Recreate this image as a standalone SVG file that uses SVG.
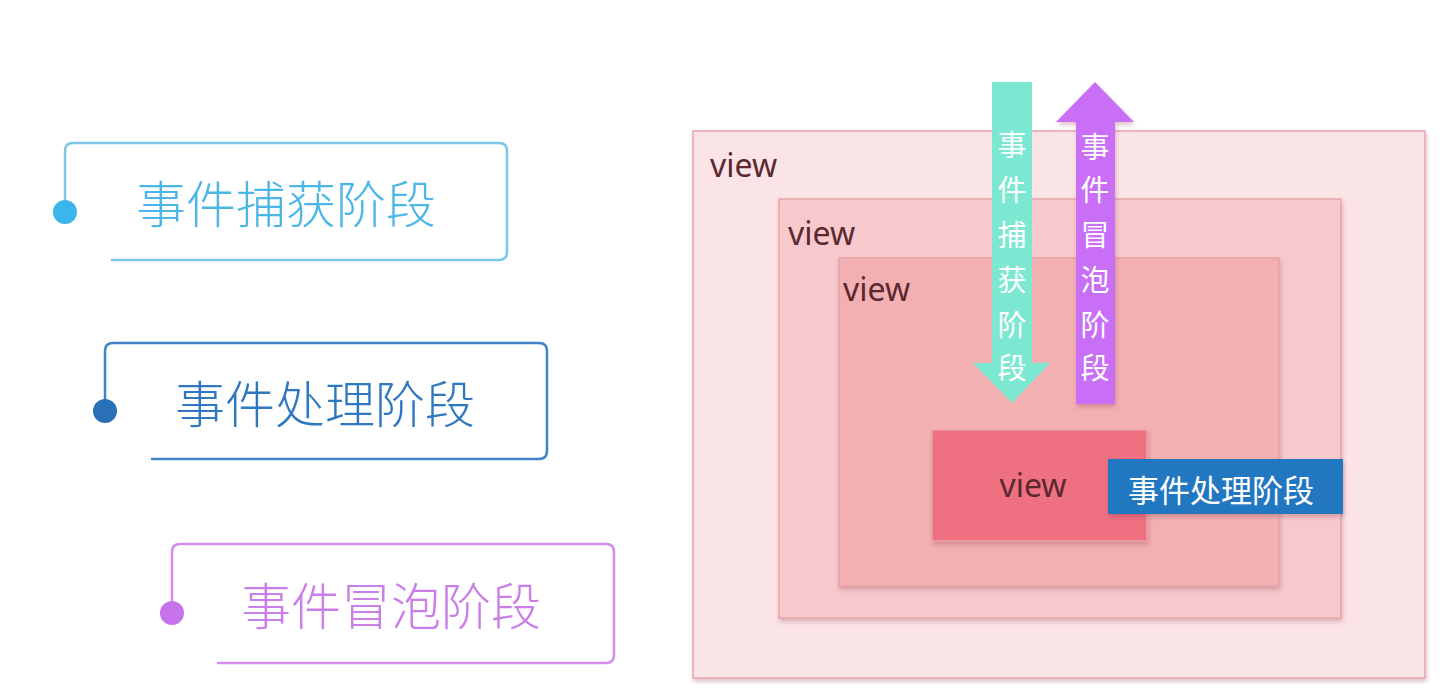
<svg xmlns="http://www.w3.org/2000/svg" width="1446" height="698" viewBox="0 0 1446 698">
<defs>
<filter id="sh" x="-10%" y="-10%" width="120%" height="130%">
<feDropShadow dx="1" dy="3" stdDeviation="2" flood-color="#8a3a44" flood-opacity="0.3"/>
</filter>
<style>
.cjk{font-family:"Noto Sans CJK SC","Noto Sans",sans-serif;}
.lbl{font-size:50px;text-anchor:middle;dominant-baseline:central;font-weight:300;}
.frame{fill:none;stroke-width:2.5;stroke-linecap:round;stroke-linejoin:round;}
.view{font-family:"Noto Sans","DejaVu Sans",sans-serif;font-size:32px;fill:#5b2830;}
.vt{font-size:29px;fill:#ffffff;text-anchor:middle;dominant-baseline:central;}
.box{stroke:#e9a3a9;stroke-width:1.5;filter:url(#sh);}
</style>
</defs>
<rect width="1446" height="698" fill="#ffffff"/>

<g id="node-capture">
<path class="frame" stroke="#7cc6ea" d="M65 212 V151 Q65 143 73 143 H499 Q507 143 507 151 V252 Q507 260 499 260 H112"/>
<circle cx="65" cy="212" r="12" fill="#3bb5ea"/>
<text class="cjk lbl" x="286" y="201" fill="#4cb7e6">事件捕获阶段</text>
</g>

<g id="node-handle">
<path class="frame" stroke="#3f85c6" d="M105 411 V351 Q105 343 113 343 H539 Q547 343 547 351 V451 Q547 459 539 459 H152"/>
<circle cx="105" cy="411" r="12" fill="#2a70b8"/>
<text class="cjk lbl" x="325" y="401" fill="#2f78bf">事件处理阶段</text>
</g>

<g id="node-bubble">
<path class="frame" stroke="#d38cec" d="M172 613 V552 Q172 544 180 544 H606 Q614 544 614 552 V655 Q614 663 606 663 H218"/>
<circle cx="172" cy="613" r="12" fill="#c873ee"/>
<text class="cjk lbl" x="391" y="603" fill="#c97ee8">事件冒泡阶段</text>
</g>

<g id="view-outer">
<rect class="box" x="693" y="131" width="732" height="547" fill="#fbe4e6"/>
<text class="view" x="710" y="177">view</text>
</g>

<g id="view-second">
<rect class="box" x="779" y="199" width="562" height="419" fill="#f7c9cc"/>
<text class="view" x="788" y="245">view</text>
</g>

<g id="view-third">
<rect class="box" x="839" y="258" width="440" height="328" fill="#f3b0b2"/>
<text class="view" x="843" y="301">view</text>
</g>

<g id="view-target">
<rect class="box" x="932" y="430" width="215" height="111" fill="#ef7081" stroke="#e46576"/>
<text class="view" x="1033" y="497" text-anchor="middle">view</text>
</g>

<g id="label-handle">
<rect x="1108" y="459" width="235" height="55" fill="#2277c1" filter="url(#sh)"/>
<text class="cjk" x="1221" y="488" font-size="31" fill="#ffffff" text-anchor="middle" dominant-baseline="central">事件处理阶段</text>
</g>

<g id="connectors">
<g id="arrow-capture">
<polygon points="992,82 1032,82 1032,363 1050,363 1012,403 973,363 992,363" fill="#7de8d1"/>
<text class="cjk vt" x="1012" y="143">事</text>
<text class="cjk vt" x="1012" y="188">件</text>
<text class="cjk vt" x="1012" y="233">捕</text>
<text class="cjk vt" x="1012" y="278">获</text>
<text class="cjk vt" x="1012" y="323">阶</text>
<text class="cjk vt" x="1012" y="366">段</text>
</g>
<g id="arrow-bubble">
<polygon points="1095,82 1134,122 1115,122 1115,404 1076,404 1076,122 1056,122" fill="#c96ef6" filter="url(#sh)"/>
<text class="cjk vt" x="1095" y="145">事</text>
<text class="cjk vt" x="1095" y="188">件</text>
<text class="cjk vt" x="1095" y="233">冒</text>
<text class="cjk vt" x="1095" y="278">泡</text>
<text class="cjk vt" x="1095" y="323">阶</text>
<text class="cjk vt" x="1095" y="366">段</text>
</g>
</g>
</svg>
